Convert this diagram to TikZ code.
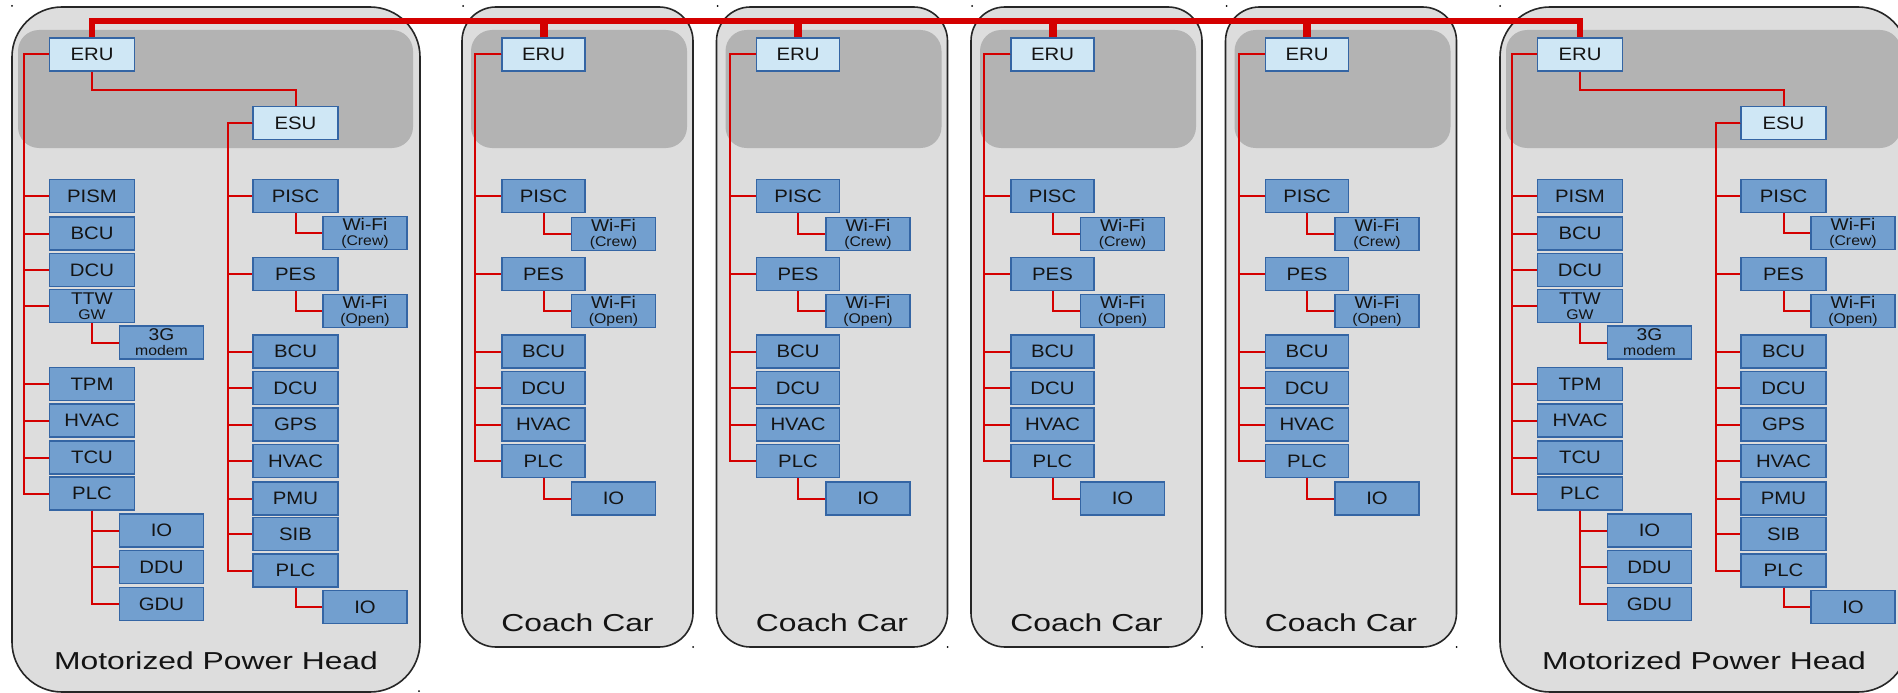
\documentclass[tikz,border=0pt]{standalone}
\usepackage{fontspec}
\setmainfont{Liberation Sans}
\newfontfamily\bxfont[FakeStretch=1.13]{Liberation Sans}
\newfontfamily\lbfont[FakeStretch=1.3]{Liberation Sans}
\definecolor{carfill}{HTML}{DDDDDD}
\definecolor{bandfill}{HTML}{B3B3B3}
\definecolor{boxfill}{HTML}{729FCF}
\definecolor{boxedge}{HTML}{3465A4}
\definecolor{erufill}{HTML}{CFE7F5}
\definecolor{wirec}{HTML}{D40000}
\definecolor{txt}{HTML}{141414}
\tikzset{
  blk/.style={draw=boxedge, fill=boxfill, line width=1.3pt, minimum width=85pt,
    minimum height=33pt, inner sep=0pt, align=center, text=txt,
    font=\bxfont\fontsize{18}{18}\selectfont},
  subblk/.style={blk, minimum width=84pt},
  hub/.style={blk, fill=erufill},
  duo/.style={font=\bxfont\fontsize{17}{15}\selectfont},
  wire/.style={draw=wirec, line width=2pt},
  busline/.style={draw=wirec, line width=6pt},
  drop/.style={draw=wirec, line width=8pt},
  carbody/.style={draw=black!85, fill=carfill, line width=1.6pt},
  bandst/.style={fill=bandfill, draw=none, rounded corners=21pt},
  carlabel/.style={text=txt, font=\lbfont\fontsize{24.5}{25}\selectfont},
  corner/.style={fill=black}
}
\newcommand\sm[1]{{\fontsize{14}{14}\selectfont #1}}
\newcommand\headcar[2]{%
\begin{scope}[xshift=#1pt]
  \path[carbody, rounded corners=50pt] (12,7) rectangle (420,692);
  \path[bandst] (18,30) rectangle (413,148);
  \fill[corner] (12,6) circle (1pt);
  \fill[corner] (419,691) circle (1pt);
  \node[hub] (#2eru) at (92,54.5) {ERU};
  \node[hub] (#2esu) at (295.5,123) {ESU};
  \node[blk] (#2pism) at (92,196) {PISM};
  \node[blk] (#2bcu) at (92,233.5) {BCU};
  \node[blk] (#2dcu) at (92,270) {DCU};
  \node[blk, duo] (#2ttw) at (92,306) {TTW\\\sm{GW}};
  \node[blk] (#2tpm) at (92,384) {TPM};
  \node[blk] (#2hvac) at (92,420.5) {HVAC};
  \node[blk] (#2tcu) at (92,457.5) {TCU};
  \node[blk] (#2plc) at (92,493.5) {PLC};
  \node[subblk, duo] (#2modem) at (161.5,342.5) {3G\\\sm{modem}};
  \node[subblk] (#2io) at (161.5,530.5) {IO};
  \node[subblk] (#2ddu) at (161.5,567) {DDU};
  \node[subblk] (#2gdu) at (161.5,604) {GDU};
  \node[blk] (#2pisc) at (295.5,196) {PISC};
  \node[blk] (#2pes) at (295.5,274) {PES};
  \node[blk] (#2rbcu) at (295.5,351.5) {BCU};
  \node[blk] (#2rdcu) at (295.5,388) {DCU};
  \node[blk] (#2gps) at (295.5,424.5) {GPS};
  \node[blk] (#2rhvac) at (295.5,461) {HVAC};
  \node[blk] (#2pmu) at (295.5,498.5) {PMU};
  \node[blk] (#2sib) at (295.5,534) {SIB};
  \node[blk] (#2rplc) at (295.5,570.5) {PLC};
  \node[subblk, duo] (#2wfc) at (365,233) {Wi-Fi\\\sm{(Crew)}};
  \node[subblk, duo] (#2wfo) at (365,311) {Wi-Fi\\\sm{(Open)}};
  \node[subblk] (#2rio) at (365,607) {IO};
  \node[carlabel] (#2label) at (216,661) {Motorized Power Head};
  \foreach \n in {pism,bcu,dcu,ttw,tpm,hvac,tcu,plc}
    \draw[wire] (#2eru.west) -- ++(-24.5,0) |- (#2\n.west);
  \foreach \n in {pisc,pes,rbcu,rdcu,gps,rhvac,pmu,sib,rplc}
    \draw[wire] (#2esu.west) -- ++(-24.5,0) |- (#2\n.west);
  \draw[wire] (#2eru.south) -- ++(0,18) -| (#2esu.north);
  \draw[wire] (#2ttw.south) |- (#2modem.west);
  \foreach \n in {io,ddu,gdu} \draw[wire] (#2plc.south) |- (#2\n.west);
  \draw[wire] (#2pisc.south) |- (#2wfc.west);
  \draw[wire] (#2pes.south) |- (#2wfo.west);
  \draw[wire] (#2rplc.south) |- (#2rio.west);
\end{scope}}
\newcommand\coachcar[2]{%
\begin{scope}[xshift=#1pt]
  \path[carbody, rounded corners=34pt] (462,7) rectangle (693,647);
  \path[bandst] (471,30) rectangle (687,148);
  \fill[corner] (463,6) circle (1pt);
  \fill[corner] (693,647) circle (1pt);
  \node[hub, minimum width=83pt] (#2eru) at (543.5,54.5) {ERU};
  \node[blk, minimum width=83pt] (#2pisc) at (543.5,196) {PISC};
  \node[blk, minimum width=83pt] (#2pes) at (543.5,274) {PES};
  \node[blk, minimum width=83pt] (#2bcu) at (543.5,351.5) {BCU};
  \node[blk, minimum width=83pt] (#2dcu) at (543.5,388) {DCU};
  \node[blk, minimum width=83pt] (#2hvac) at (543.5,424.5) {HVAC};
  \node[blk, minimum width=83pt] (#2plc) at (543.5,461) {PLC};
  \node[subblk, duo] (#2wfc) at (613.5,234) {Wi-Fi\\\sm{(Crew)}};
  \node[subblk, duo] (#2wfo) at (613.5,311) {Wi-Fi\\\sm{(Open)}};
  \node[subblk] (#2io) at (613.5,498.5) {IO};
  \node[carlabel] (#2label) at (577.5,623) {Coach Car};
  \foreach \n in {pisc,pes,bcu,dcu,hvac,plc}
    \draw[wire] (#2eru.west) -- ++(-26,0) |- (#2\n.west);
  \draw[wire] (#2pisc.south) |- (#2wfc.west);
  \draw[wire] (#2pes.south) |- (#2wfo.west);
  \draw[wire] (#2plc.south) |- (#2io.west);
\end{scope}}
\begin{document}
\begin{tikzpicture}[x=1pt,y=-1pt]
  \useasboundingbox (0,0) rectangle (1898,693);
  \clip (0,0) rectangle (1898,693);
  \headcar{0}{L}
  \coachcar{0}{A}
  \coachcar{254.5}{B}
  \coachcar{509}{C}
  \coachcar{763.5}{D}
  \headcar{1488}{R}
  \coordinate (busy) at (0,21);
  \draw[busline] (Leru.north) -- (Leru.north |- busy) -- (Reru.north |- busy) -- (Reru.north);
  \foreach \c in {A,B,C,D}
    \draw[drop] (\c eru.north) -- (\c eru.north |- busy);
\end{tikzpicture}
\end{document}
